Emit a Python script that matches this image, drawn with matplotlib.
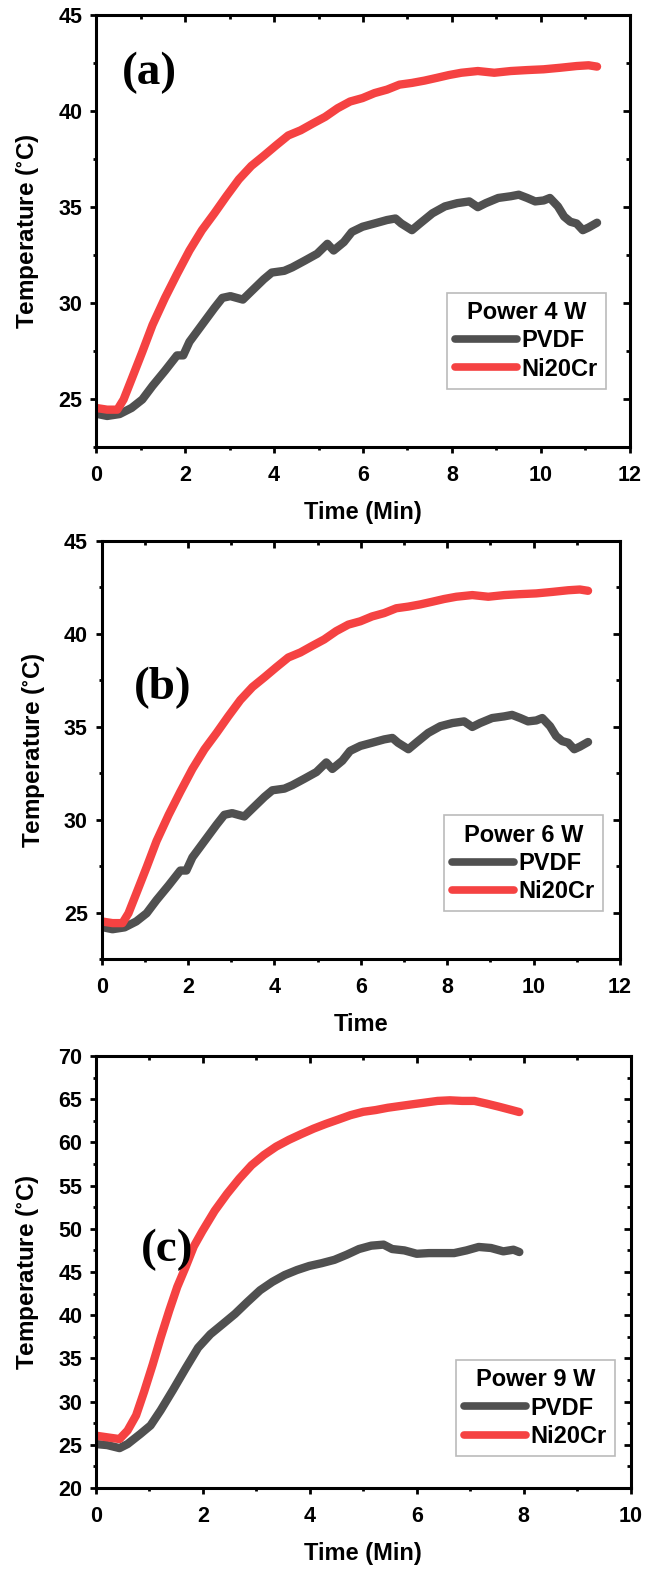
import matplotlib
matplotlib.use('Agg')
import matplotlib.pyplot as plt
from matplotlib.ticker import MultipleLocator

# DATA
# panels (a) and (b) show the same curves
t_ab_pvdf = [0.0, 0.25, 0.53, 0.8, 1.04, 1.27, 1.55, 1.82, 1.96, 2.1, 2.38, 2.66, 2.84, 3.02, 3.3,
             3.49, 3.77, 3.95, 4.23, 4.41, 4.69, 4.97, 5.2, 5.34, 5.57, 5.75, 5.99, 6.26, 6.54,
             6.73, 6.86, 7.1, 7.28, 7.56, 7.84, 8.12, 8.39, 8.58, 8.76, 9.04, 9.32, 9.5, 9.69,
             9.87, 10.06, 10.2, 10.38, 10.52, 10.66, 10.8, 10.94, 11.07, 11.26]
T_ab_pvdf = [24.22, 24.1, 24.2, 24.52, 24.96, 25.67, 26.46, 27.26, 27.26, 27.97, 28.85, 29.73,
             30.26, 30.35, 30.17, 30.6, 31.23, 31.58, 31.67, 31.85, 32.2, 32.56, 33.08, 32.73,
             33.17, 33.7, 33.97, 34.14, 34.32, 34.4, 34.14, 33.79, 34.14, 34.67, 35.03, 35.2,
             35.29, 34.99, 35.2, 35.47, 35.56, 35.64, 35.47, 35.29, 35.34, 35.47, 35.03, 34.5,
             34.23, 34.14, 33.79, 33.93, 34.18]
t_ab_ni = [0.0, 0.25, 0.48, 0.62, 0.8, 1.04, 1.27, 1.55, 1.82, 2.1, 2.38, 2.66, 2.93, 3.21, 3.49,
           3.77, 4.04, 4.32, 4.6, 4.87, 5.15, 5.43, 5.71, 5.99, 6.26, 6.54, 6.82, 7.1, 7.38,
           7.65, 7.93, 8.21, 8.58, 8.95, 9.32, 9.69, 10.06, 10.43, 10.8, 11.07, 11.26]
T_ab_ni = [24.52, 24.43, 24.43, 24.96, 26.02, 27.44, 28.85, 30.26, 31.5, 32.73, 33.79, 34.67,
           35.56, 36.44, 37.14, 37.67, 38.2, 38.73, 39.0, 39.35, 39.7, 40.15, 40.5, 40.68, 40.94,
           41.12, 41.38, 41.47, 41.59, 41.73, 41.88, 42.0, 42.09, 42.0, 42.09, 42.14, 42.18,
           42.26, 42.35, 42.39, 42.32]

t_c_pvdf = [0.0, 0.21, 0.44, 0.59, 0.83, 1.02, 1.21, 1.44, 1.68, 1.91, 2.14, 2.37, 2.6, 2.83,
            3.07, 3.3, 3.53, 3.76, 3.99, 4.22, 4.46, 4.69, 4.92, 5.15, 5.38, 5.54, 5.77, 6.0,
            6.23, 6.46, 6.7, 6.93, 7.16, 7.39, 7.62, 7.81, 7.92]
T_c_pvdf = [25.09, 24.97, 24.62, 25.09, 26.26, 27.24, 29.0, 31.35, 33.89, 36.24, 37.8, 38.97,
            40.15, 41.52, 42.89, 43.86, 44.65, 45.23, 45.7, 46.02, 46.41, 47.0, 47.66, 48.05,
            48.17, 47.66, 47.5, 47.11, 47.19, 47.19, 47.19, 47.5, 47.9, 47.78, 47.39, 47.58, 47.31]
t_c_ni = [0.0, 0.21, 0.44, 0.59, 0.75, 0.9, 1.06, 1.21, 1.37, 1.52, 1.68, 1.83, 1.99, 2.22,
          2.45, 2.68, 2.91, 3.14, 3.37, 3.61, 3.84, 4.07, 4.3, 4.53, 4.76, 5.0, 5.23, 5.46,
          5.69, 5.92, 6.15, 6.39, 6.62, 6.85, 7.08, 7.31, 7.54, 7.78, 7.92]
T_c_ni = [26.06, 25.87, 25.67, 26.65, 28.41, 31.15, 34.28, 37.41, 40.54, 43.28, 45.63, 47.97,
          49.73, 52.08, 54.04, 55.8, 57.36, 58.54, 59.51, 60.3, 60.96, 61.59, 62.14, 62.64,
          63.15, 63.54, 63.74, 64.01, 64.21, 64.41, 64.6, 64.8, 64.87, 64.8, 64.8, 64.48,
          64.13, 63.74, 63.51]

panel_tags = ['(a)', '(b)', '(c)']
powers = ['Power 4 W', 'Power 6 W', 'Power 9 W']
xlabels = ['Time (Min)', 'Time', 'Time (Min)']
series_names = ['PVDF', 'Ni20Cr']

GRAY = '#505050'
RED = '#F54242'

plt.rcParams['font.family'] = ['Liberation Sans', 'DejaVu Sans']
plt.rcParams['font.weight'] = 'bold'
plt.rcParams['mathtext.default'] = 'regular'

fig = plt.figure(figsize=(6.47, 15.70), dpi=100)
rects = [[0.1484, 0.7155, 0.8253, 0.2748],
         [0.1572, 0.3892, 0.8011, 0.2662],
         [0.1484, 0.0522, 0.8261, 0.2752]]
data = [(t_ab_pvdf, T_ab_pvdf, t_ab_ni, T_ab_ni),
        (t_ab_pvdf, T_ab_pvdf, t_ab_ni, T_ab_ni),
        (t_c_pvdf, T_c_pvdf, t_c_ni, T_c_ni)]
xlims = [(0, 12), (0, 12), (0, 10)]
ylims = [(22.5, 45), (22.5, 45), (20, 70)]
tag_pos = [(1.19, 42.0), (1.42, 37.1), (1.33, 47.6)]
leg_anchor = [(0.955, 0.134), (0.967, 0.114), (0.971, 0.074)]

for i in range(3):
    ax = fig.add_axes(rects[i])
    tp, Tp, tn, Tn = data[i]
    ax.plot(tp, Tp, color=GRAY, lw=6, solid_capstyle='round', label=series_names[0])
    ax.plot(tn, Tn, color=RED, lw=6, solid_capstyle='round', label=series_names[1])
    ax.set_xlim(*xlims[i])
    ax.set_ylim(*ylims[i])
    ax.xaxis.set_major_locator(MultipleLocator(2))
    ax.xaxis.set_minor_locator(MultipleLocator(1))
    ax.yaxis.set_major_locator(MultipleLocator(5))
    ax.yaxis.set_minor_locator(MultipleLocator(2.5))
    for s in ax.spines.values():
        s.set_linewidth(2.2)
    ax.tick_params(which='major', direction='out', length=4, width=2, labelsize=15.5)
    ax.tick_params(which='minor', direction='out', length=2.5, width=2)
    ax.tick_params(axis='x', which='major', pad=9)
    ax.tick_params(axis='y', which='major', pad=6)
    # mirrored ticks pointing inward on top and right
    top = ax.secondary_xaxis('top')
    top.xaxis.set_major_locator(MultipleLocator(2))
    top.xaxis.set_minor_locator(MultipleLocator(1))
    top.tick_params(which='major', direction='in', length=5, width=2, labeltop=False)
    top.tick_params(which='minor', direction='in', length=3, width=2)
    right = ax.secondary_yaxis('right')
    right.yaxis.set_major_locator(MultipleLocator(5))
    right.yaxis.set_minor_locator(MultipleLocator(2.5))
    right.tick_params(which='major', direction='in', length=5, width=2, labelright=False)
    right.tick_params(which='minor', direction='in', length=3, width=2)
    for lab in ax.get_xticklabels() + ax.get_yticklabels():
        lab.set_fontweight('bold')
    ax.set_xlabel(xlabels[i], fontsize=17, fontweight='bold', labelpad=11)
    ax.set_ylabel(r'Temperature ($^{\circ}$C)', fontsize=17.5, fontweight='bold', labelpad=12)
    ax.text(tag_pos[i][0], tag_pos[i][1], panel_tags[i], family=['Liberation Serif'],
            fontsize=34, fontweight='bold', ha='center', va='center')
    leg = ax.legend(title=powers[i], loc='lower right', bbox_to_anchor=leg_anchor[i],
                    prop={'size': 17, 'weight': 'bold'},
                    title_fontproperties={'size': 17, 'weight': 'bold'},
                    handlelength=2.6, handletextpad=0.2, borderpad=0.35, labelspacing=0.22,
                    fancybox=False, framealpha=1, borderaxespad=0)
    leg.get_frame().set_edgecolor('#BBBBBB')
    leg.get_frame().set_linewidth(1.2)
    for h in leg.get_lines():
        h.set_linewidth(5.5)

fig.savefig('out.png', dpi=100)
